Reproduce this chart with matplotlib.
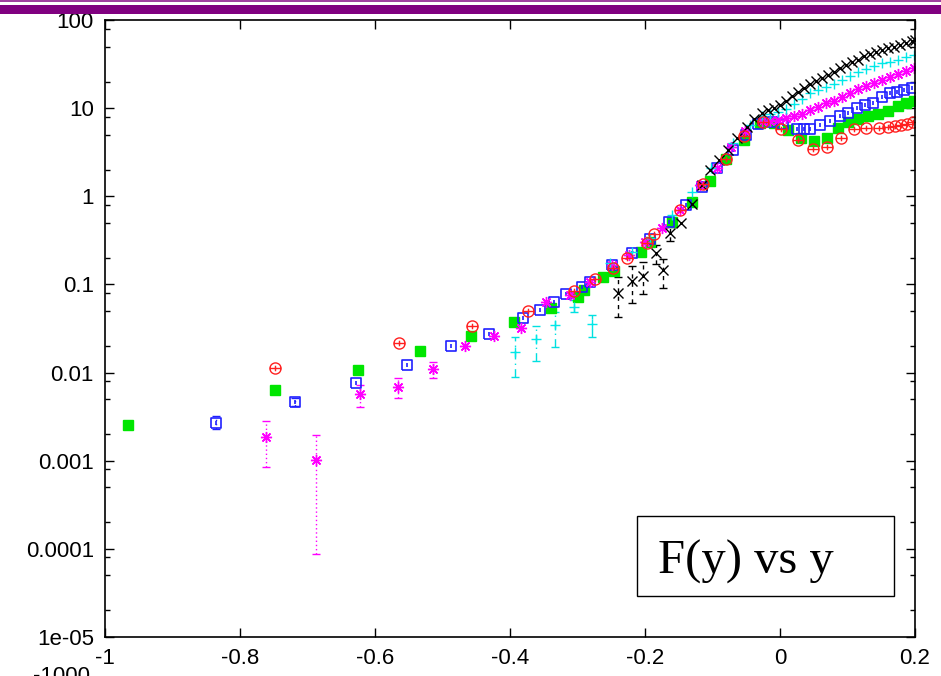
import matplotlib
matplotlib.use('Agg')
import matplotlib.pyplot as plt
import numpy as np
from matplotlib.path import Path
from matplotlib.patches import Rectangle
from matplotlib.ticker import FixedLocator, LogLocator, NullFormatter, NullLocator

plt.rcParams['font.family'] = ['Liberation Sans', 'DejaVu Sans']
plt.rcParams['axes.unicode_minus'] = False

# ---- values ----
x_ticks = [-1, -0.8, -0.6, -0.4, -0.2, 0, 0.2]
x_tick_labels = ['-1', '-0.8', '-0.6', '-0.4', '-0.2', '0', '0.2']
y_ticks = [1e-5, 1e-4, 1e-3, 1e-2, 1e-1, 1, 10, 100]
y_tick_labels = ['1e-05', '0.0001', '0.001', '0.01', '0.1', '1', '10', '100']

red_x = [-0.748, -0.565, -0.457, -0.373, -0.305, -0.274, -0.248, -0.227, -0.197, -0.186,
         -0.148, -0.114, -0.080, -0.053, -0.025, 0.002, 0.026, 0.049, 0.070, 0.091,
         0.110, 0.128, 0.146, 0.160, 0.170, 0.179, 0.188, 0.197]
red_y = [0.0114, 0.0218, 0.0337, 0.0499, 0.0836, 0.114, 0.152, 0.200, 0.299, 0.371,
         0.708, 1.37, 2.64, 4.89, 6.90, 5.77, 4.30, 3.41, 3.59, 4.64,
         5.77, 5.90, 5.95, 6.11, 6.27, 6.44, 6.56, 7.02]

green_x = [-0.966, -0.748, -0.625, -0.533, -0.458, -0.394, -0.339, -0.300, -0.290, -0.262,
           -0.246, -0.206, -0.192, -0.160, -0.131, -0.104, -0.080, -0.054, -0.030, -0.009,
           0.012, 0.031, 0.050, 0.069, 0.086, 0.101, 0.116, 0.130, 0.145, 0.160,
           0.175, 0.187, 0.199]
green_y = [0.00252, 0.00629, 0.0106, 0.0174, 0.0258, 0.0372, 0.0536, 0.0726, 0.0865, 0.121,
           0.142, 0.235, 0.305, 0.515, 0.867, 1.51, 2.63, 4.35, 6.73, 6.73,
           5.65, 4.53, 4.24, 4.64, 5.90, 6.96, 7.53, 8.14, 8.69, 9.28,
           10.6, 11.4, 12.2]

blue_x = [-0.835, -0.719, -0.628, -0.553, -0.488, -0.431, -0.381, -0.355, -0.335, -0.317,
          -0.293, -0.282, -0.249, -0.220, -0.193, -0.164, -0.139, -0.116, -0.093, -0.070,
          -0.050, -0.033, -0.012, 0.005, 0.025, 0.035, 0.044, 0.059, 0.074, 0.089,
          0.101, 0.114, 0.126, 0.138, 0.151, 0.163, 0.173, 0.183, 0.195]
blue_y = [0.00270, 0.00467, 0.00767, 0.0123, 0.0202, 0.0274, 0.0413, 0.0513, 0.0637, 0.0778,
          0.0946, 0.107, 0.166, 0.225, 0.325, 0.508, 0.796, 1.28, 2.08, 3.35,
          4.95, 6.61, 7.05, 6.56, 5.80, 5.80, 5.80, 6.44, 7.14, 8.21,
          8.87, 9.96, 10.9, 11.4, 13.5, 14.7, 15.4, 16.1, 16.8]
blue_err_lo = [0.00229, 0.00420]
blue_err_hi = [0.00321, 0.00520]

magenta_x = [-0.762, -0.687, -0.622, -0.566, -0.514, -0.467, -0.423, -0.384, -0.347, -0.311,
             -0.282, -0.249, -0.224, -0.200, -0.175, -0.148, -0.119, -0.093, -0.072, -0.052,
             -0.027, -0.015, -0.003, 0.009, 0.021, 0.033, 0.044, 0.056, 0.068, 0.080,
             0.092, 0.104, 0.116, 0.127, 0.139, 0.151, 0.163, 0.175, 0.187, 0.199]
magenta_y = [0.00184, 0.00102, 0.00571, 0.00690, 0.0109, 0.0202, 0.0260, 0.0318, 0.0640, 0.0759,
             0.107, 0.166, 0.216, 0.303, 0.433, 0.698, 1.34, 2.08, 3.62, 5.50,
             7.14, 7.24, 7.33, 7.63, 8.04, 8.69, 9.52, 10.4, 11.3, 12.2,
             13.4, 14.9, 16.5, 17.8, 19.3, 20.9, 22.6, 24.4, 26.4, 28.5]
magenta_err_lo = [0.000841, 8.8e-5, 0.00410, 0.00510, 0.00861]
magenta_err_hi = [0.00284, 0.00195, 0.00722, 0.00861, 0.0131]

cyan_x = [-0.393, -0.362, -0.333, -0.305, -0.279, -0.252, -0.220, -0.193, -0.160, -0.131,
          -0.102, -0.069, -0.044, -0.027, -0.015, -0.003, 0.009, 0.021, 0.033, 0.044,
          0.056, 0.068, 0.080, 0.092, 0.104, 0.116, 0.127, 0.139, 0.151, 0.163,
          0.175, 0.187, 0.199]
cyan_y = [0.0170, 0.0238, 0.0346, 0.0558, 0.0356, 0.174, 0.235, 0.336, 0.614, 1.13,
          2.09, 4.05, 6.44, 8.04, 8.58, 9.04, 9.78, 11.0, 12.7, 14.7,
          16.1, 17.4, 18.8, 20.6, 22.9, 25.4, 27.8, 30.1, 32.1, 33.8,
          35.6, 38.0, 40.1]
cyan_err_lo = [0.00897, 0.0136, 0.0196, 0.0483, 0.0255]
cyan_err_hi = [0.0251, 0.0337, 0.0490, 0.0665, 0.0450]

black_x = [-0.240, -0.220, -0.203, -0.183, -0.174, -0.163, -0.146, -0.130, -0.116, -0.103,
           -0.090, -0.077, -0.064, -0.049, -0.039, -0.027, -0.018, -0.009, 0.000, 0.009,
           0.018, 0.027, 0.036, 0.044, 0.053, 0.062, 0.071, 0.080, 0.089, 0.098,
           0.107, 0.116, 0.124, 0.133, 0.142, 0.151, 0.160, 0.169, 0.178, 0.187,
           0.196, 0.200]
black_y = [0.0793, 0.109, 0.126, 0.225, 0.146, 0.380, 0.493, 0.817, 1.34, 1.99,
           2.58, 3.35, 4.58, 6.15, 7.53, 8.81, 9.52, 10.0, 10.9, 12.0,
           13.7, 15.2, 16.9, 18.8, 20.3, 22.0, 23.8, 25.7, 28.2, 30.5,
           33.0, 35.6, 39.0, 41.1, 43.4, 45.7, 48.1, 50.0, 52.0, 54.8,
           57.8, 59.3]
black_err_lo = [0.0430, 0.0611, 0.0773, 0.169, 0.0904, 0.311]
black_err_hi = [0.122, 0.162, 0.178, 0.280, 0.193, 0.452]

# gnuplot-like point shapes (point with a tiny error bar inside)
circle_pt = Path.make_compound_path(Path.unit_circle(),
                                    Path([(-1, 0), (1, 0)]),
                                    Path([(0, -0.5), (0, 0.5)]))
square_pt = Path.make_compound_path(Path([(-1, -1), (1, -1), (1, 1), (-1, 1), (-1, -1)]),
                                    Path([(0, -0.45), (0, 0.45)]))

fig = plt.figure(figsize=(9.41, 6.76), dpi=100)
W, H = 941, 676
ax = fig.add_axes([105 / W, 1 - 637 / H, 810 / W, 617 / H])


def draw_errbars(x, y, lo, hi, color, ls):
    n = len(lo)
    xs, ys = np.array(x[:n]), np.array(y[:n])
    eb = ax.errorbar(xs, ys, yerr=[ys - np.array(lo), np.array(hi) - ys], fmt='none',
                     ecolor=color, elinewidth=1, capsize=3, capthick=1)
    eb[2][0].set_linestyle(ls)


draw_errbars(magenta_x, magenta_y, magenta_err_lo, magenta_err_hi, '#ff00ff', (0, (1, 2)))
draw_errbars(cyan_x, cyan_y, cyan_err_lo, cyan_err_hi, '#00e0e0', (0, (6, 3, 1, 3)))
draw_errbars(black_x, black_y, black_err_lo, black_err_hi, 'black', (0, (3, 3)))
draw_errbars(blue_x, blue_y, blue_err_lo, blue_err_hi, '#2020ff', (0, (1, 2)))

ax.plot(green_x, green_y, ls='none', marker='s', ms=6.5, color='#00e600', mec='#00e600')
ax.plot(blue_x, blue_y, ls='none', marker=square_pt, ms=7.5, mfc='none', mec='#2020ff', mew=1.2)
ax.plot(magenta_x, magenta_y, ls='none', marker=(8, 2, 0), ms=8, mec='#ff00ff', mew=1)
ax.plot(cyan_x, cyan_y, ls='none', marker='+', ms=7.5, mec='#00e8e8', mew=1)
ax.plot(black_x, black_y, ls='none', marker='x', ms=7, mec='black', mew=1)
ax.plot(red_x, red_y, ls='none', marker=circle_pt, ms=8, mfc='none', mec='#ff2020', mew=1)

ax.set_xlim(-1, 0.2)
ax.set_yscale('log')
ax.set_ylim(1e-5, 100)
ax.set_xticks(x_ticks, x_tick_labels)
ax.xaxis.set_minor_locator(NullLocator())
ax.yaxis.set_major_locator(FixedLocator(y_ticks))
ax.set_yticklabels(y_tick_labels)
ax.yaxis.set_minor_locator(LogLocator(base=10, subs=[2, 5, 8], numticks=20))
ax.yaxis.set_minor_formatter(NullFormatter())
ax.tick_params(which='major', direction='in', length=6.5, width=1, top=True, right=True,
               labelsize=16, pad=8)
ax.tick_params(which='minor', direction='in', length=3.6, width=1, top=True, right=True)
for s in ax.spines.values():
    s.set_linewidth(1.2)

# slide decoration: purple band on top and leftover label at the bottom
fig.add_artist(Rectangle((0, 1 - 2 / H), 1, 2 / H, transform=fig.transFigure,
                         color='#a040a0', lw=0))
fig.add_artist(Rectangle((0, 1 - 14 / H), 1, 9 / H, transform=fig.transFigure,
                         color='#800080', lw=0))
fig.text(90 / W, 1 - 666 / H, '-1000', ha='right', va='top', fontsize=16)

# label box
fig.add_artist(Rectangle((637 / W, 1 - 596 / H), 257 / W, 80 / H, transform=fig.transFigure,
                         facecolor='white', edgecolor='black', lw=1, zorder=5))
fig.text(658 / W, 1 - 574 / H, 'F(y) vs y', ha='left', va='baseline', fontsize=35,
         family=['Liberation Serif', 'DejaVu Serif'], zorder=6)

fig.savefig('out.png', dpi=100)
